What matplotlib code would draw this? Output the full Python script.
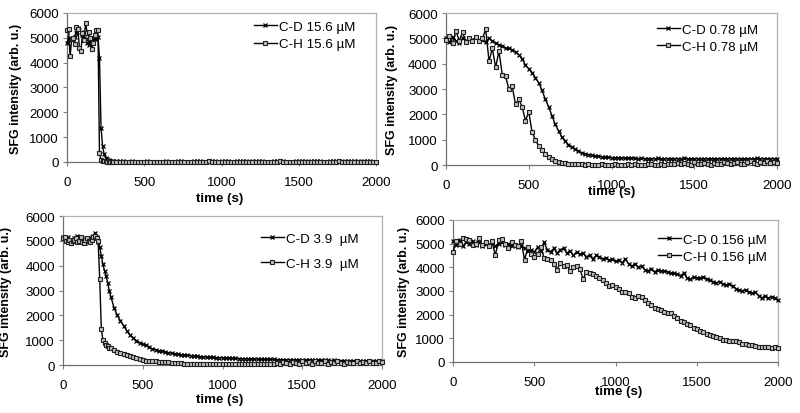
import numpy as np
import matplotlib
matplotlib.use("Agg")
import matplotlib.pyplot as plt

plt.rcParams['font.family'] = ['Liberation Sans', 'DejaVu Sans']

# sampling grids (s): fine steps during the early drop, then 20 s steps
t_fine = np.concatenate([np.arange(0, 301, 10), np.arange(320, 2001, 20)])
t_even = np.arange(0, 2001, 20)

# 15.6 uM (top left)
cd_156 = [4800, 5000, 4950, 4950, 5000, 5050, 5200, 5400, 5300, 5250,
          5100, 5000, 4950, 4800, 4700, 4850, 4900, 5000, 4950, 5000,
          5050, 4200, 1380, 640, 320, 180, 110, 70, 50, 40,
          30,
          25, 20, 20, 15, 15, 20, 10, 15, 10, 15,
          20, 10, 15, 10, 10, 15, 20, 15, 10, 15,
          20, 25, 15, 10, 15, 20, 30, 20, 15, 10,
          20, 25, 20, 15, 30, 25, 20, 15, 10, 20,
          30, 25, 20, 15, 20, 25, 30, 20, 15, 10,
          15, 20, 30, 25, 20, 15, 10, 15, 20, 30,
          25, 20, 15, 20, 25, 30, 20, 15, 10, 20,
          25, 30, 20, 15, 20, 25, 30, 25, 20, 15,
          20, 25, 20, 15, 10]
ch_156 = [5300, 5350, 4250, 4950, 5000, 4750, 5450, 5350, 4600, 4450,
          5200, 4900, 5600, 5200, 5250, 5000, 4550, 4800, 5100, 5300,
          5300, 350, 100, 50, 30, 20, 15, 10, 10, 5,
          5,
          10, 5, 5, 10, 5, 0, 5, 10, 5, 5,
          10, 5, 0, 5, 10, 5, 5, 0, 5, 10,
          5, 5, 10, 15, 5, 10, 5, 0, 5, 10,
          40, 10, 5, 10, 5, 0, 5, 10, 5, 5,
          10, 5, 5, 10, 15, 10, 5, 10, 5, 0,
          5, 10, 5, 30, 10, 5, 10, 5, 10, 5,
          0, 5, 10, 5, 10, 5, 5, 10, 5, 10,
          5, 10, 30, 10, 5, 10, 5, 0, 5, 10,
          5, 10, 5, 5, 10]

# 0.78 uM (top right)
cd_078 = [5000, 4850, 5050, 4900, 4800, 5000, 4900, 5000, 4950, 5050,
          4900, 4950, 4850, 5000, 4900, 4800, 4750, 4700, 4600, 4600,
          4550, 4450, 4350, 4200, 3950, 3800, 3650, 3450, 3250, 2950,
          2600, 2300, 1950, 1600, 1350, 1100, 950, 800, 720, 620,
          550, 480, 440, 410, 380, 360, 340, 320, 310, 300,
          290, 285, 280, 275, 270, 265, 270, 260, 255, 260,
          250, 255, 245, 250, 260, 240, 250, 245, 255, 240,
          250, 245, 260, 240, 235, 250, 245, 240, 255, 235,
          245, 250, 240, 235, 250, 245, 240, 255, 245, 235,
          240, 250, 245, 240, 260, 255, 245, 250, 240, 250,
          245]
ch_078 = [4950, 5100, 4800, 5300, 4900, 5250, 4850, 5000, 4900, 5050,
          4900, 5000, 5350, 4100, 4600, 3850, 4500, 3550, 3500, 3000,
          3100, 2400, 2600, 2300, 1750, 2100, 1300, 1000, 750, 600,
          450, 330, 230, 150, 110, 80, 60, 50, 40, 30,
          30, 25, 20, 25, 20, 15, 20, 25, 20, 15,
          20, 25, 20, 15, 20, 25, 20, 30, 20, 15,
          20, 25, 30, 20, 15, 25, 20, 30, 40, 25,
          60, 30, 90, 40, 20, 100, 50, 30, 80, 40,
          20, 90, 50, 30, 110, 60, 40, 80, 120, 50,
          30, 100, 140, 60, 40, 120, 80, 150, 60, 100,
          70]

# 3.9 uM (bottom left)
cd_39 = [5150, 5100, 5050, 5150, 4950, 4900, 5000, 5100, 5050, 5200,
         5050, 5000, 5100, 4950, 4900, 5050, 5000, 5100, 5150, 5200,
         5330, 5150, 4950, 4750, 4400, 4050, 3800, 3600, 3300, 3000,
         2750,
         2300, 2000, 1780, 1580, 1380, 1200, 1100, 980, 900, 830,
         790, 720, 650, 620, 580, 560, 530, 500, 480, 460,
         440, 420, 400, 390, 380, 370, 360, 340, 330, 320,
         310, 305, 300, 295, 290, 280, 275, 270, 265, 260,
         255, 250, 250, 245, 240, 240, 235, 230, 230, 225,
         225, 220, 220, 215, 215, 210, 210, 205, 205, 200,
         200, 195, 200, 190, 195, 185, 190, 185, 180, 185,
         180, 175, 180, 175, 170, 175, 170, 165, 170, 165,
         165, 160, 165, 160, 160]
ch_39 = [5100, 5150, 5000, 4950, 5050, 4900, 5000, 5050, 5100, 4950,
         5000, 5150, 4950, 4900, 5050, 5100, 5000, 4950, 5050, 5150,
         5200, 5100, 5000, 3450, 1450, 1000, 900, 800, 750, 700,
         680,
         600, 540, 500, 450, 400, 360, 320, 280, 240, 200,
         180, 170, 160, 150, 140, 130, 120, 110, 100, 90,
         80, 70, 60, 55, 50, 50, 45, 50, 45, 50,
         45, 50, 55, 45, 50, 45, 50, 55, 50, 45,
         50, 55, 50, 45, 50, 55, 60, 50, 55, 50,
         60, 90, 50, 120, 70, 50, 140, 80, 60, 150,
         70, 110, 60, 160, 90, 70, 150, 60, 120, 80,
         170, 90, 60, 140, 100, 70, 180, 90, 130, 80,
         160, 100, 70, 150, 120]

# 0.156 uM (bottom right)
cd_0156 = [5100, 4950, 5150, 4900, 5050, 5000, 5100, 4950, 5050, 4900,
           5000, 4950, 5050, 4900, 5000, 5050, 4950, 5000, 4900, 4950,
           4850, 4900, 4800, 4700, 4750, 4650, 4850, 4700, 5050, 4750,
           4650, 4800, 4600, 4750, 4800, 4600, 4700, 4500, 4650, 4550,
           4600, 4450, 4500, 4350, 4500, 4450, 4350, 4400, 4300, 4350,
           4250, 4300, 4200, 4350, 4150, 4050, 4150, 4000, 4050, 3900,
           3850, 3950, 3800, 3900, 3850, 3850, 3800, 3750, 3750, 3700,
           3650, 3750, 3550, 3500, 3600, 3550, 3550, 3600, 3500, 3450,
           3400, 3350, 3400, 3300, 3250, 3300, 3200, 3100, 3050, 3000,
           3050, 2950, 2900, 2950, 2800, 2700, 2800, 2700, 2750, 2700,
           2600]
ch_0156 = [4650, 5100, 5000, 5250, 5200, 5150, 4950, 5000, 5250, 4950,
           5050, 4900, 5100, 4500, 5150, 5200, 5000, 4800, 5050, 4950,
           4900, 5100, 4300, 4850, 4550, 4450, 4550, 4850, 4400, 4350,
           4300, 4150, 3900, 4200, 4050, 4100, 3850, 4000, 4050, 3950,
           3500, 3800, 3750, 3700, 3650, 3550, 3450, 3350, 3200, 3250,
           3150, 3100, 2950, 2950, 2900, 2750, 2700, 2800, 2750, 2600,
           2500, 2400, 2300, 2250, 2200, 2100, 2050, 2050, 1950, 1850,
           1750, 1700, 1600, 1550, 1450, 1400, 1320, 1250, 1200, 1150,
           1100, 1050, 1000, 950, 920, 900, 870, 880, 830, 780,
           750, 720, 700, 680, 620, 640, 650, 620, 600, 620,
           580]

x_ticks = [0, 500, 1000, 1500, 2000]
y_ticks = [0, 1000, 2000, 3000, 4000, 5000, 6000]

FS = 9.6

# (rect, t, cd, ch, labels, legend anchor, legend spacing, xlabel pos, ylabel x)
panels = [
    ([0.0838, 0.6063, 0.3863, 0.3599], t_fine, cd_156, ch_156,
     ('C-D 15.6 µM', 'C-H 15.6 µM'), (0.605, 0.95), 0.40, (0.495, -0.242), -0.165),
    ([0.5575, 0.5990, 0.4138, 0.3671], t_even, cd_078, ch_078,
     ('C-D 0.78 µM', 'C-H 0.78 µM'), (0.637, 0.93), 0.35, (0.50, -0.171), -0.163),
    ([0.0788, 0.1159, 0.3988, 0.3599], t_fine, cd_39, ch_39,
     ('C-D 3.9  µM', 'C-H 3.9  µM'), (0.62, 0.89), 0.95, (0.49, -0.228), -0.178),
    ([0.5663, 0.1232, 0.4063, 0.3430], t_even, cd_0156, ch_0156,
     ('C-D 0.156 µM', 'C-H 0.156 µM'), (0.631, 0.905), 0.35, (0.51, -0.204), -0.150),
]

fig = plt.figure(figsize=(8.0, 4.14), dpi=100)

for rect, t, cd, ch, labels, anchor, spacing, xlab_pos, ylab_x in panels:
    ax = fig.add_axes(rect)
    ax.plot(t, cd, color='black', lw=1.0, marker='x', ms=3.4, mew=0.9,
            label=labels[0], clip_on=False, zorder=3)
    ax.plot(t, ch, color='black', lw=1.0, marker='s', ms=3.5, mew=0.8,
            mfc='#c0c0c0', mec='#202020', label=labels[1], clip_on=False, zorder=3)

    ax.set_xlim(0, 2000)
    ax.set_ylim(0, 6000)
    ax.set_xticks(x_ticks)
    ax.set_yticks(y_ticks)
    ax.tick_params(axis='both', direction='out', length=3, width=0.8,
                   color='#808080', labelsize=FS)
    ax.tick_params(axis='x', pad=7)
    ax.tick_params(axis='y', pad=3)

    # Excel-like frame: dark axes, light plot-area border
    for side in ('left', 'bottom'):
        ax.spines[side].set_color('#707070')
        ax.spines[side].set_linewidth(0.9)
    for side in ('top', 'right'):
        ax.spines[side].set_color('#b0b0b0')
        ax.spines[side].set_linewidth(0.9)

    ax.set_xlabel('time (s)', fontsize=FS, fontweight='bold')
    ax.xaxis.label.set_va('center')
    ax.xaxis.set_label_coords(*xlab_pos)
    ax.set_ylabel('SFG intensity (arb. u.)', fontsize=FS - 0.6, fontweight='bold')
    ax.yaxis.label.set_va('center')
    ax.yaxis.set_label_coords(ylab_x, 0.5)

    ax.legend(loc='upper left', bbox_to_anchor=anchor, frameon=False,
              fontsize=FS, numpoints=1, handlelength=1.7, handletextpad=0.15,
              borderpad=0, borderaxespad=0, labelspacing=spacing)

fig.savefig('out.png', dpi=100)
